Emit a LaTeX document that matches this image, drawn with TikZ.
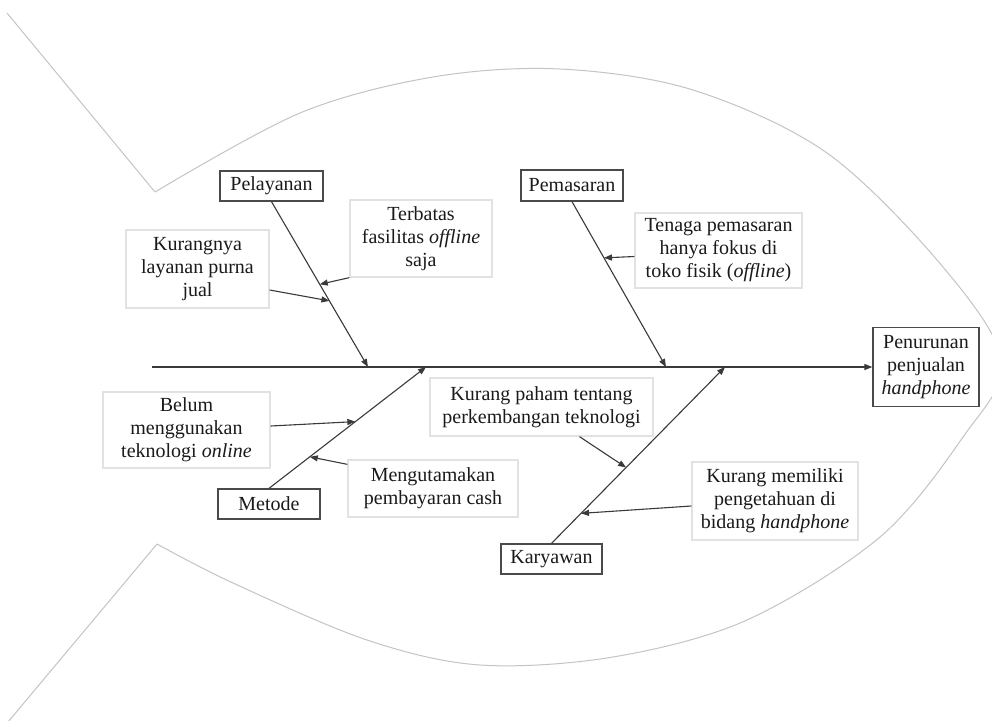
\documentclass[tikz,border=0pt]{standalone}
\usepackage{fontspec}
\setmainfont{Liberation Serif}
\usetikzlibrary{arrows.meta,calc}
\definecolor{fishc}{HTML}{C4C4C4}
\definecolor{catc}{HTML}{4A4A4A}
\definecolor{causec}{HTML}{E2E2E2}
\definecolor{bonec}{HTML}{3A3A3A}
\definecolor{txt}{HTML}{1A1A1A}
\begin{document}
\begin{tikzpicture}[x=1pt,y=-1pt,
  every node/.style={font=\fontsize{20}{23}\selectfont, text=txt},
  cat/.style={draw=catc, line width=1.3pt, fill=white, inner sep=0pt, align=center},
  cause/.style={draw=causec, line width=1.3pt, fill=white, inner sep=0pt, align=center},
  bone/.style={draw=bonec, line width=1.1pt, -{Triangle[length=8pt,width=6pt]}},
  fish/.style={draw=fishc, line width=1pt}]
\useasboundingbox (0,0) rectangle (992,720);
\clip (0,0) rectangle (992,720);
\fill[white] (0,0) rectangle (992,720);
% fish outline
\draw[fish] (7,13) -- (155,192);
\draw[fish] plot[smooth, tension=0.55] coordinates {(155,192) (300,113) (433,77) (560,69) (693,90) (827,153) (943,267) (1002,362) (963,437) (880,537) (747,620) (613,657) (480,665) (367,640) (233,583) (157,544)};
\draw[fish] (157,544) -- (8,722);
% category boxes
\node[cat, minimum width=103pt, minimum height=30pt] (pel) at (271.5,186) {Pelayanan};
\node[cat, minimum width=102pt, minimum height=31pt] (pem) at (572,185.5) {Pemasaran};
\node[cat, minimum width=102pt, minimum height=30pt] (met) at (269,504) {Metode};
\node[cat, minimum width=101pt, minimum height=30pt] (kar) at (551.5,559) {Karyawan};
\node[cat, minimum width=106pt, minimum height=79pt] (pen) at (926,367) {Penurunan\\penjualan\\\textit{handphone}};
% cause boxes
\node[cause, minimum width=142pt, minimum height=77pt] (ter) at (421,238.5) {Terbatas\\fasilitas \textit{offline}\\saja};
\node[cause, minimum width=143pt, minimum height=78pt] (kur) at (197.5,269) {Kurangnya\\layanan purna\\jual};
\node[cause, minimum width=167pt, minimum height=75pt] (ten) at (718.5,250.5) {Tenaga pemasaran\\hanya fokus di\\toko fisik (\textit{offline})};
\node[cause, minimum width=167pt, minimum height=76pt] (bel) at (186.5,430) {Belum\\menggunakan\\teknologi \textit{online}};
\node[cause, minimum width=170pt, minimum height=57pt] (men) at (433,488.5) {Mengutamakan\\pembayaran cash};
\node[cause, minimum width=223pt, minimum height=58pt] (kp) at (541.5,407) {Kurang paham tentang\\perkembangan teknologi};
\node[cause, minimum width=166pt, minimum height=78pt] (km) at (775,501) {Kurang memiliki\\pengetahuan di\\bidang \textit{handphone}};
% spine points
\coordinate (tail) at (152,367);
\coordinate (s1) at (368,367);
\coordinate (s2) at (666,367);
\coordinate (s3) at (426,367);
\coordinate (s4) at (725,367);
% spine and bones
\draw[bone] (tail) -- (pen.west);
\draw[bone] (pel.south) -- (s1);
\draw[bone] (pem.south) -- (s2);
\draw[bone] (met.north) -- (s3);
\draw[bone] (kar.north) -- (s4);
% cause arrows
\draw[bone] (ter.south west) -- ($(pel.south)!0.5!(s1)$);
\draw[bone] ([yshift=-21pt]kur.east) -- ($(pel.south)!0.6!(s1)$);
\draw[bone] ([yshift=-6pt]ten.west) -- ($(pem.south)!0.34!(s2)$);
\draw[bone] ([yshift=4pt]bel.east) -- ($(met.north)!0.55!(s3)$);
\draw[bone] ([yshift=-5pt]men.north west) -- ($(met.north)!0.26!(s3)$);
\draw[bone] ([xshift=38pt]kp.south) -- ($(kar.north)!0.43!(s4)$);
\draw[bone] ([yshift=-5pt]km.west) -- ($(kar.north)!0.17!(s4)$);
\end{tikzpicture}
\end{document}
